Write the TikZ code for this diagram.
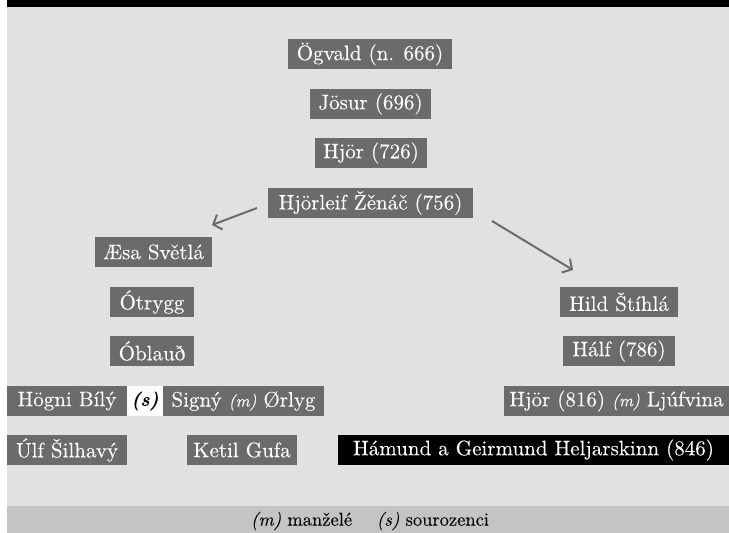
\documentclass[tikz,border=0pt]{standalone}
\usepackage{fontspec}
\setmainfont{lmroman10-regular.otf}[FakeBold=0.06,
  ItalicFont=lmroman10-italic.otf,
  BoldFont=lmroman10-bold.otf,
  BoldItalicFont=lmroman10-bolditalic.otf]
\usetikzlibrary{arrows.meta}
\definecolor{bggray}{HTML}{E1E1E1}
\definecolor{boxgray}{HTML}{6B6B6B}
\definecolor{leggray}{HTML}{C4C4C4}
\newcommand\relmark[1]{{\fontsize{17}{19}\selectfont\itshape #1}}
\tikzset{
  person/.style={fill=boxgray, text=white, minimum height=30pt, inner sep=0pt, font=\fontsize{21}{24}\selectfont},
  blackperson/.style={person, fill=black},
  sibbox/.style={fill=white, text=black, minimum height=30pt, inner sep=0pt, font=\fontsize{19}{21}\selectfont\bfseries\itshape},
  conn/.style={draw=boxgray, line width=2pt, -{Straight Barb[length=7pt,width=16pt,line width=2pt]}}
}
\begin{document}
\begin{tikzpicture}[x=1pt,y=-1pt]
\useasboundingbox (0,0) rectangle (729,533);
\fill[white] (0,0) rectangle (729,533);
\fill[bggray] (7,7) rectangle (729,506);
\fill[black] (7,0) rectangle (729,7);
\fill[leggray] (7,506) rectangle (729,533);

\node[person, minimum width=164pt] (og) at (370,54) {Ögvald (n. 666)};
\node[person, minimum width=121pt] (jo) at (370.5,104) {Jösur (696)};
\node[person, minimum width=112pt] (hj1) at (371,153) {Hjör (726)};
\node[person, minimum width=205pt] (hl) at (370.5,203) {Hjörleif Žěnáč (756)};
\node[person, minimum width=117pt] (ae) at (153.5,252) {Æsa Světlá};
\node[person, minimum width=84pt] (ot) at (152,302) {Ótrygg};
\node[person, minimum width=84pt] (ob) at (152,351) {Óblauð};
\node[person, minimum width=120pt] (hg) at (67,401) {Högni Bílý};
\node[sibbox, minimum width=36pt] (sb) at (145,401) {(s)};
\node[person, minimum width=161pt] (sg) at (243.5,401) {Signý \relmark{(m)} Ørlyg};
\node[person, minimum width=120pt] (ul) at (67,450) {Úlf Šilhavý};
\node[person, minimum width=110pt] (kt) at (242,450) {Ketil Gufa};
\node[blackperson, minimum width=391pt] (ha) at (533.5,450) {Hámund a Geirmund Heljarskinn (846)};
\node[person, minimum width=118pt] (hi) at (619,302) {Hild Štíhlá};
\node[person, minimum width=112pt] (hf) at (619,351) {Hálf (786)};
\node[person, minimum width=225pt] (hj2) at (616.5,401) {Hjör (816) \relmark{(m)} Ljúfvina};

\coordinate (la) at (257,208);
\coordinate (lb) at (212,225);
\coordinate (ra) at (492,221);
\coordinate (rb) at (573,270);
\draw[conn] (la) -- (lb);
\draw[conn] (ra) -- (rb);

\node[font=\fontsize{18.5}{21}\selectfont, inner sep=0pt] (leg) at (370,521)
  {\textit{(m)} manželé\quad\ \textit{(s)} sourozenci};
\end{tikzpicture}
\end{document}
